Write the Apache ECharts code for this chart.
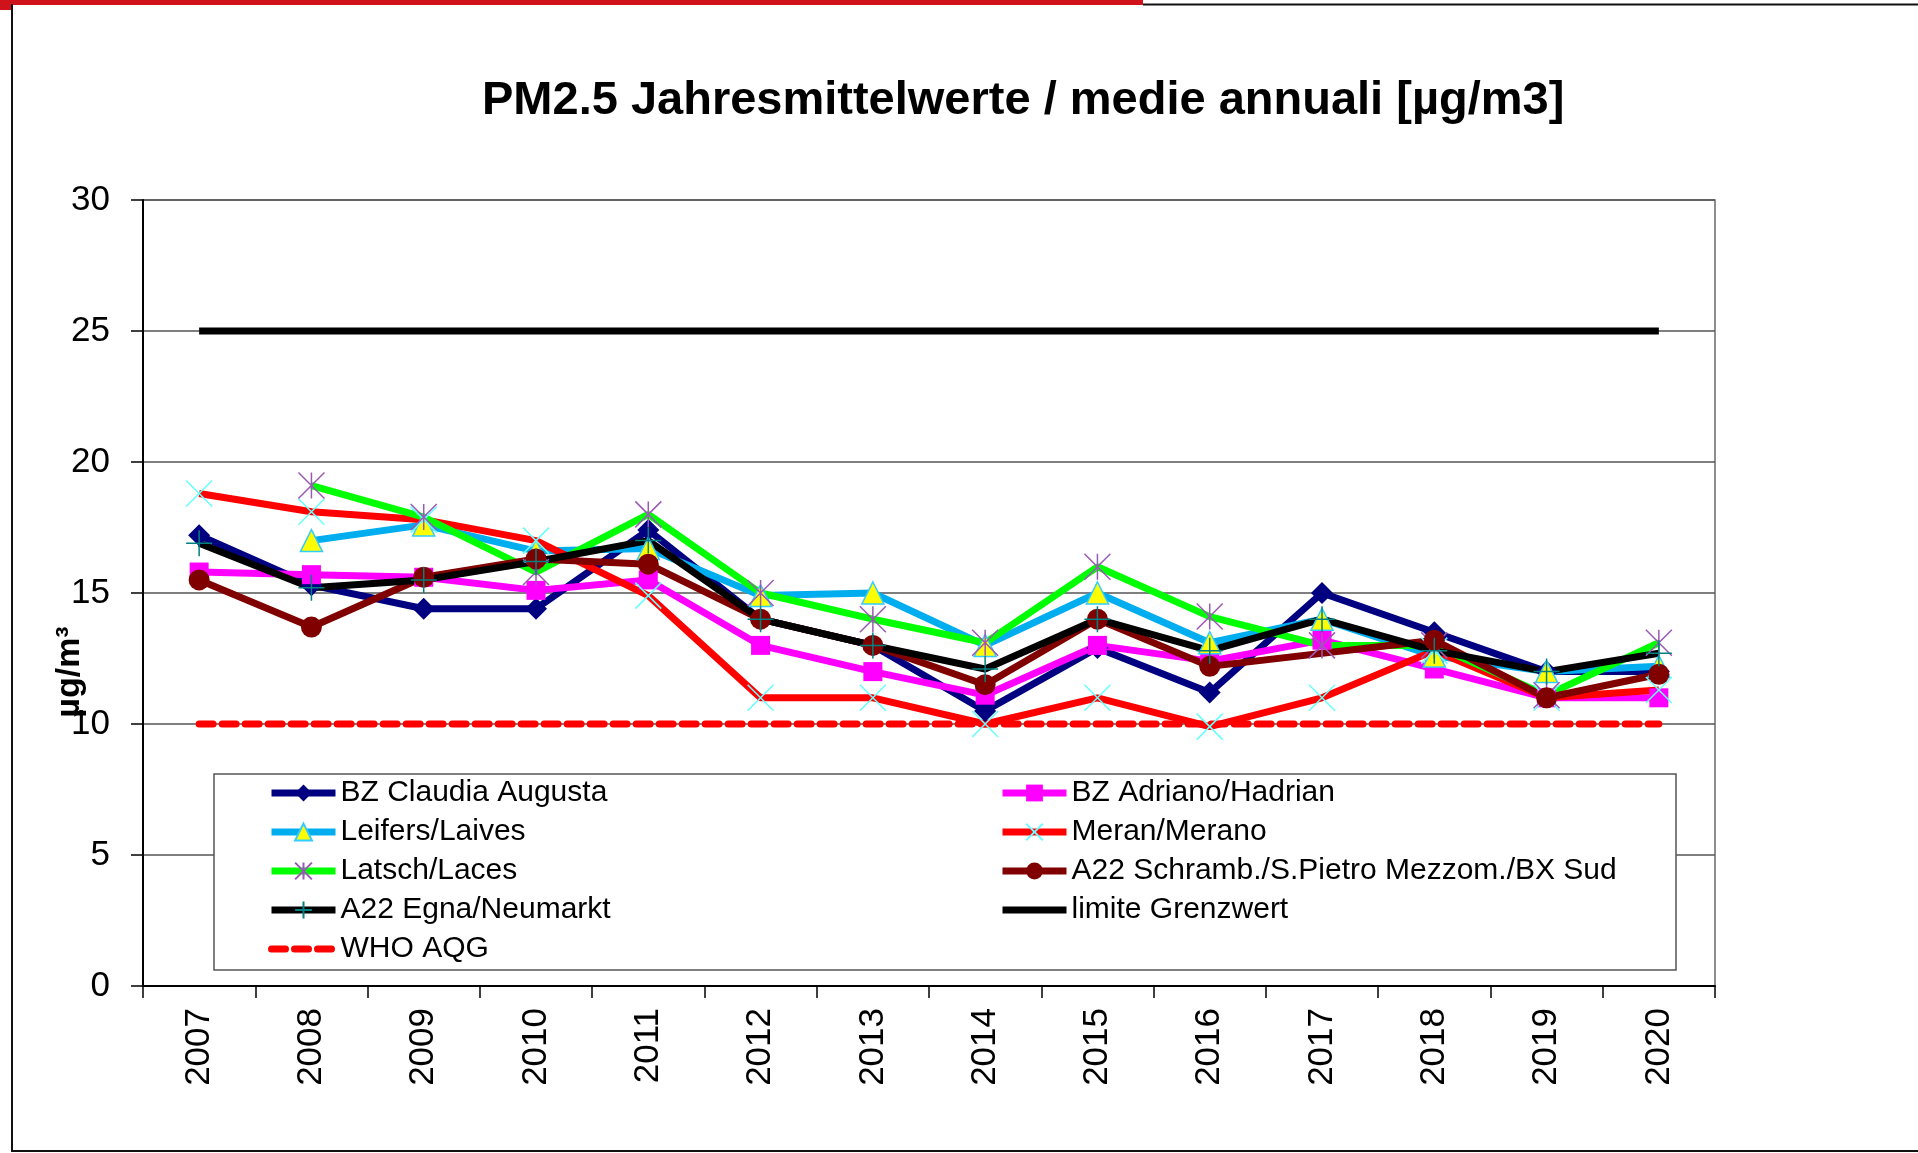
<!DOCTYPE html>
<html>
<head>
<meta charset="utf-8">
<script src="https://cdn.jsdelivr.net/npm/echarts@6/dist/echarts.min.js"></script>
<style>html,body{margin:0;padding:0;background:#fff;}#c{width:1918px;height:1153px;}</style>
</head>
<body>
<div id="c"></div>
<script>
var years = ['2007','2008','2009','2010','2011','2012','2013','2014','2015','2016','2017','2018','2019','2020'];
var yTicks = [0, 5, 10, 15, 20, 25, 30];
var claudia = [17.2, 15.3, 14.4, 14.4, 17.4, 14.0, 13.0, 10.5, 12.9, 11.2, 15.0, 13.5, 12.0, 12.0];
var adriano = [15.8, 15.7, 15.6, 15.1, 15.5, 13.0, 12.0, 11.1, 13.0, 12.4, 13.2, 12.1, 11.0, 11.0];
var leifers = [null, 17.0, 17.6, 16.6, 16.7, 14.9, 15.0, 13.0, 15.0, 13.1, 14.0, 12.6, 12.0, 12.2];
var meran   = [18.8, 18.1, 17.8, 17.0, 14.9, 11.0, 11.0, 10.0, 11.0, 9.9, 11.0, 12.8, 11.0, 11.3];
var latsch  = [null, 19.1, 17.9, 15.8, 18.0, 15.0, 14.0, 13.1, 16.0, 14.1, 13.0, 13.0, 11.1, 13.1];
var schramb = [15.5, 13.7, 15.6, 16.3, 16.1, 14.0, 13.0, 11.5, 14.0, 12.2, null, 13.2, 11.0, 11.9];
var egna    = [16.9, 15.2, 15.5, 16.2, 17.0, 14.0, 13.0, 12.1, 14.0, 12.8, 14.0, 12.8, 12.0, 12.7];
var grenzwert = [25, 25, 25, 25, 25, 25, 25, 25, 25, 25, 25, 25, 25, 25];
var whoAqg    = [10, 10, 10, 10, 10, 10, 10, 10, 10, 10, 10, 10, 10, 10];
var names = ['BZ Claudia Augusta','BZ Adriano/Hadrian','Leifers/Laives','Meran/Merano','Latsch/Laces',
             'A22 Schramb./S.Pietro Mezzom./BX Sud','A22 Egna/Neumarkt','limite Grenzwert','WHO AQG'];

var FONT = 'Liberation Sans, Arial, sans-serif';
var SYM_X = 'path://M0,0L10,10M10,0L0,10';
var SYM_STAR = 'path://M0,0L10,10M10,0L0,10M5,0L5,10';
var SYM_PLUS = 'path://M5,0L5,10M0,5L10,5';
var LW = 7;

function line(name, data, color, symbol, size, itemStyle, extra) {
  var s = {
    name: name, type: 'line', data: data,
    symbol: symbol, symbolSize: size,
    lineStyle: { color: color, width: LW },
    itemStyle: itemStyle,
    emphasis: { disabled: true },
    animation: false
  };
  for (var k in extra) s[k] = extra[k];
  return s;
}

var chart = echarts.init(document.getElementById('c'), null, { renderer: 'canvas' });
var legendText = { fontFamily: FONT, fontSize: 30, color: '#000', lineHeight: 30 };
var legendCommon = {
  orient: 'vertical', top: 778, itemWidth: 64, itemHeight: 21, itemGap: 9,
  selectedMode: false, textStyle: legendText, padding: 0, z: 10,
  lineStyle: { width: 7 }
};
var lg1 = Object.assign({}, legendCommon, { left: 268, data: [names[0], names[2], names[4], names[6], names[8]] });
var lg2 = Object.assign({}, legendCommon, { left: 999, data: [names[1], names[3], names[5], names[7]] });

chart.setOption({
  backgroundColor: '#fff',
  title: {
    text: 'PM2.5 Jahresmittelwerte / medie annuali [µg/m3]',
    left: 482, top: 78, padding: 0,
    textStyle: { fontFamily: FONT, fontSize: 47, fontWeight: 'bold', color: '#000' }
  },
  grid: { left: 143, right: 203, top: 200, bottom: 167, show: true, borderColor: '#6a6a6a', borderWidth: 1.5, backgroundColor: '#fff' },
  xAxis: {
    type: 'category', data: years, boundaryGap: true,
    axisLine: { lineStyle: { color: '#000', width: 2 } },
    axisTick: { show: true, length: 12, lineStyle: { color: '#000', width: 1.5 }, alignWithLabel: false },
    axisLabel: { rotate: 90, margin: 22, fontFamily: FONT, fontSize: 35, color: '#000' },
    splitLine: { show: false }
  },
  yAxis: {
    type: 'value', min: yTicks[0], max: yTicks[yTicks.length - 1], interval: 5,
    axisLine: { show: true, lineStyle: { color: '#000', width: 2 } },
    axisTick: { show: true, length: 12, lineStyle: { color: '#000', width: 1.5 } },
    axisLabel: { margin: 33, fontFamily: FONT, fontSize: 35, color: '#000' },
    splitLine: { show: true, lineStyle: { color: '#555', width: 1.5 } }
  },
  legend: [lg1, lg2],
  graphic: [
    { type: 'rect', shape: { x: 214, y: 774, width: 1462, height: 196 }, style: { fill: '#fff', stroke: '#555', lineWidth: 1.5 }, z: 5 },
    { type: 'text', x: 70, y: 672, rotation: Math.PI / 2, style: { text: 'µg/m³', font: 'bold 34px ' + FONT, fill: '#000', textAlign: 'center', textVerticalAlign: 'middle' }, z: 6 },
    { type: 'rect', shape: { x: 0, y: 0, width: 1143, height: 5 }, style: { fill: '#d0131b' }, z: 6 },
    { type: 'rect', shape: { x: 0, y: 0, width: 11, height: 10 }, style: { fill: '#d0131b' }, z: 6 },
    { type: 'line', shape: { x1: 1143, y1: 4.5, x2: 1918, y2: 4.5 }, style: { stroke: '#111', lineWidth: 2 }, z: 6 },
    { type: 'line', shape: { x1: 12, y1: 4, x2: 12, y2: 1152 }, style: { stroke: '#111', lineWidth: 2 }, z: 6 },
    { type: 'line', shape: { x1: 12, y1: 1151, x2: 1918, y2: 1151 }, style: { stroke: '#111', lineWidth: 2 }, z: 6 }
  ],
  series: [
    line(names[0], claudia, '#000080', 'diamond', 22, { color: '#000080' }),
    line(names[1], adriano, '#ff00ff', 'rect', 19, { color: '#ff00ff' }),
    line(names[2], leifers, '#00aeef', 'triangle', 22, { color: '#ffff00', borderColor: '#33ccff', borderWidth: 1.5 }),
    line(names[3], meran, '#ff0000', SYM_X, 26, { color: 'rgba(0,0,0,0)', borderColor: '#66ffff', borderWidth: 1.5 }),
    line(names[4], latsch, '#00ff00', SYM_STAR, 26, { color: 'rgba(0,0,0,0)', borderColor: '#9b59b6', borderWidth: 1.5 }),
    line(names[5], schramb, '#800000', 'circle', 21, { color: '#800000' }, { connectNulls: true }),
    line(names[6], egna, '#000000', SYM_PLUS, 26, { color: 'rgba(0,0,0,0)', borderColor: '#008080', borderWidth: 1.5 }),
    line(names[7], grenzwert, '#000000', 'none', 0, { color: 'rgba(0,0,0,0)' }),
    line(names[8], whoAqg, '#ff0000', 'none', 0, { color: 'rgba(0,0,0,0)' }, { lineStyle: { color: '#ff0000', width: LW, type: [14, 9], cap: 'round' } })
  ]
});
</script>
</body>
</html>
